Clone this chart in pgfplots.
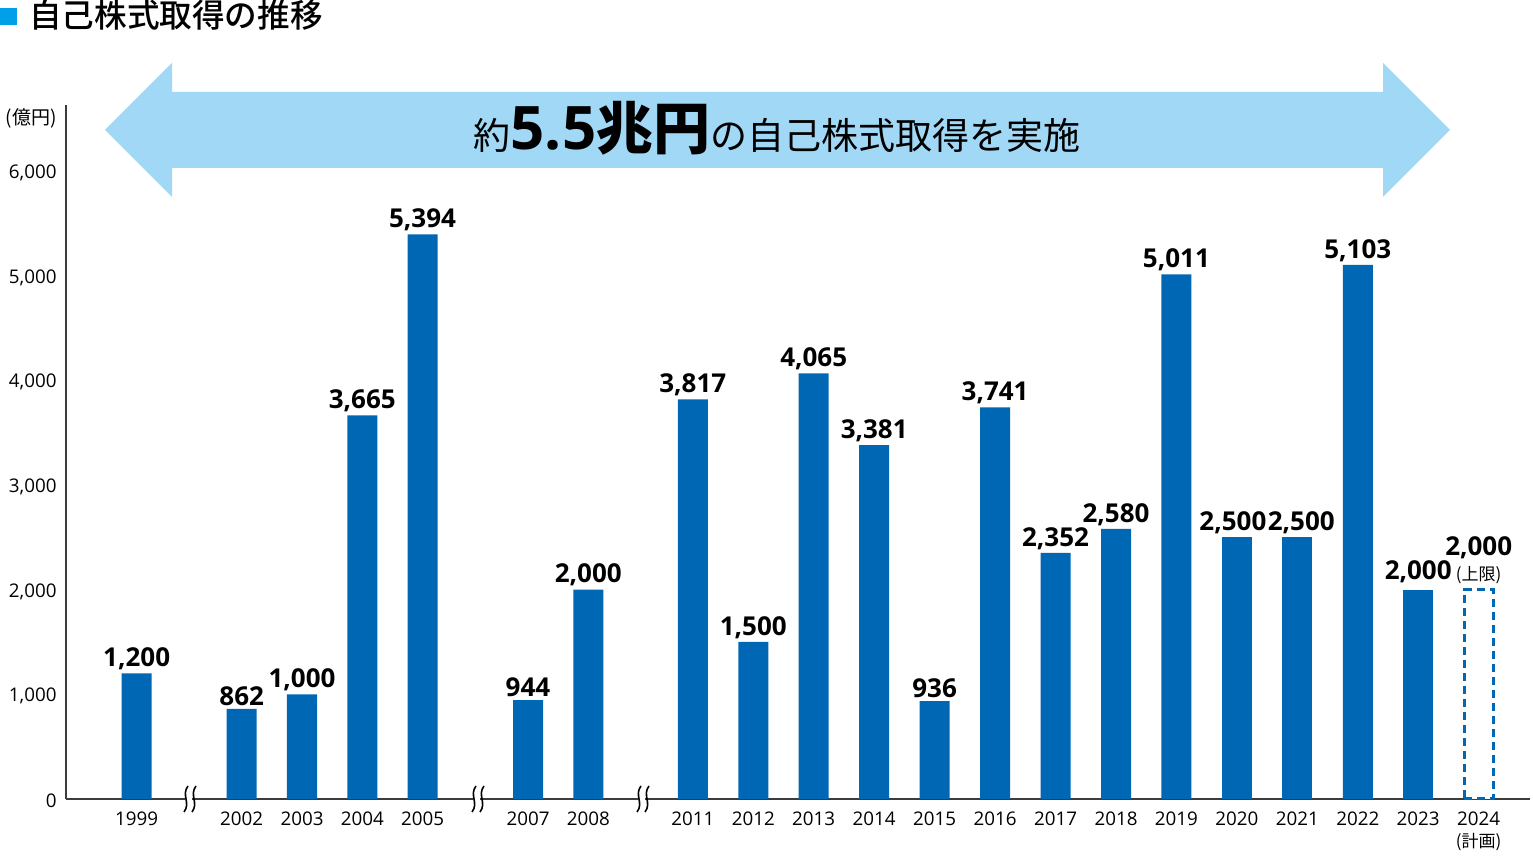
\documentclass[border=0pt]{standalone}
\usepackage{fontspec}
\setmainfont{Open Sans}
\newfontfamily\jp{Noto Sans CJK JP}
\newfontfamily\jpm{Noto Sans CJK JP Medium}
\usepackage{pgfplots}
\pgfplotsset{compat=1.18}
\definecolor{barblue}{RGB}{0,103,180}
\definecolor{arrowblue}{RGB}{160,216,245}
\definecolor{sqblue}{RGB}{0,160,233}
\definecolor{axisgray}{RGB}{60,60,60}

\begin{document}
\begin{tikzpicture}
\path[use as bounding box] (-33pt,-31pt) rectangle (733.5pt,399.5pt);
\begin{axis}[at={(0,0)}, anchor=south west, scale only axis,
  width=732pt, height=347pt,
  xmin=66, xmax=1530, ymin=0, ymax=6630,
  axis x line*=bottom, axis y line*=left,
  axis line style={line width=0.8pt, axisgray},
  major tick length=0pt,
  ytick={0,1000,...,6000},
  /pgf/number format/assume math mode=true,
  /pgf/number format/1000 sep={,},
  yticklabel style={font=\fontsize{9.4}{11}\selectfont, inner sep=0pt, xshift=-4.5pt, yshift=-1pt},
  xtick={136.7,241.7,302,362.3,422.5,528,588.3,692.8,753.3,813.7,874.2,934.6,995.1,1055.5,1116,1176.4,1236.9,1297.3,1357.8,1418.2,1478.7},
  xticklabels={1999,2002,2003,2004,2005,2007,2008,2011,2012,2013,2014,2015,2016,2017,2018,2019,2020,2021,2022,2023,{2024\\{\jp\fontsize{8.5}{11}\selectfont (計画)}}},
  xticklabel style={font=\fontsize{9.4}{11}\selectfont, align=center, inner sep=2pt, yshift=-4pt},
  ybar, bar shift=0pt, bar width=30,
  nodes near coords,
  nodes near coords style={font=\bfseries\fontsize{13}{14}\selectfont, inner sep=1.5pt, text=black},
  clip=false]
\addplot[fill=barblue, draw=none] coordinates {
 (136.7,1200) (241.7,862) (302,1000) (362.3,3665) (422.5,5394)
 (528,944) (588.3,2000)
 (692.8,3817) (753.3,1500) (813.7,4065) (874.2,3381) (934.6,936)
 (995.1,3741) (1055.5,2352) (1116,2580) (1176.4,5011)
 (1357.8,5103)};
\addplot[fill=barblue, draw=none, nodes near coords style={xshift=-2pt}] coordinates {(1236.9,2500)};
\addplot[fill=barblue, draw=none, nodes near coords style={xshift=2pt}] coordinates {(1297.3,2500)};
\addplot[fill=barblue, draw=none, nodes near coords style={yshift=1.5pt}] coordinates {(1418.2,2000)};
\addplot[fill=white, draw=barblue, line width=1.5pt, dash pattern=on 4pt off 2.5pt, bar width=29,
  nodes near coords={2,000\\[-1.5pt]{\normalfont\jp\fontsize{8.5}{10}\selectfont (上限)}},
  nodes near coords style={align=center, yshift=0.8pt}] coordinates {(1478.7,2000)};
\end{axis}
\begin{scope}[x=0.5pt, y=-0.5pt, shift={(-33pt,399.5pt)}]
  % title
  \fill[sqblue] (0,8) rectangle (17,25);
  \node[anchor=base west, inner sep=0pt, font=\jpm\fontsize{16.3}{18}\selectfont] at (29,28) {自己株式取得の推移};
  % unit
  \node[anchor=base east, inner sep=0pt, font=\jp\fontsize{9.5}{11}\selectfont] at (57,125) {(億円)};
  % arrow
  \fill[arrowblue] (105,130) -- (172,63) -- (172,92) -- (1383,92) -- (1383,63) -- (1450,130)
     -- (1383,197) -- (1383,168) -- (172,168) -- (172,197) -- cycle;
  \node[anchor=base, inner sep=0pt] at (777,150) {\jp\fontsize{18.5}{20}\selectfont 約{\bfseries\fontsize{30}{32}\selectfont\rmfamily 5.5}{\jp\bfseries\fontsize{28.5}{30}\selectfont 兆円}の自己株式取得を実施};
  % axis breaks
  \foreach \xb in {183,471,636} {
    \fill[white] (\xb+2,795) rectangle (\xb+9,803);
    \draw[line width=0.8pt, black] (\xb+5,786) .. controls (\xb-2,795) and (\xb+8,803) .. (\xb+1,812);
    \draw[line width=0.8pt, black] (\xb+13,786) .. controls (\xb+6,795) and (\xb+16,803) .. (\xb+9,812);
  }
\end{scope}
\end{tikzpicture}
\end{document}
